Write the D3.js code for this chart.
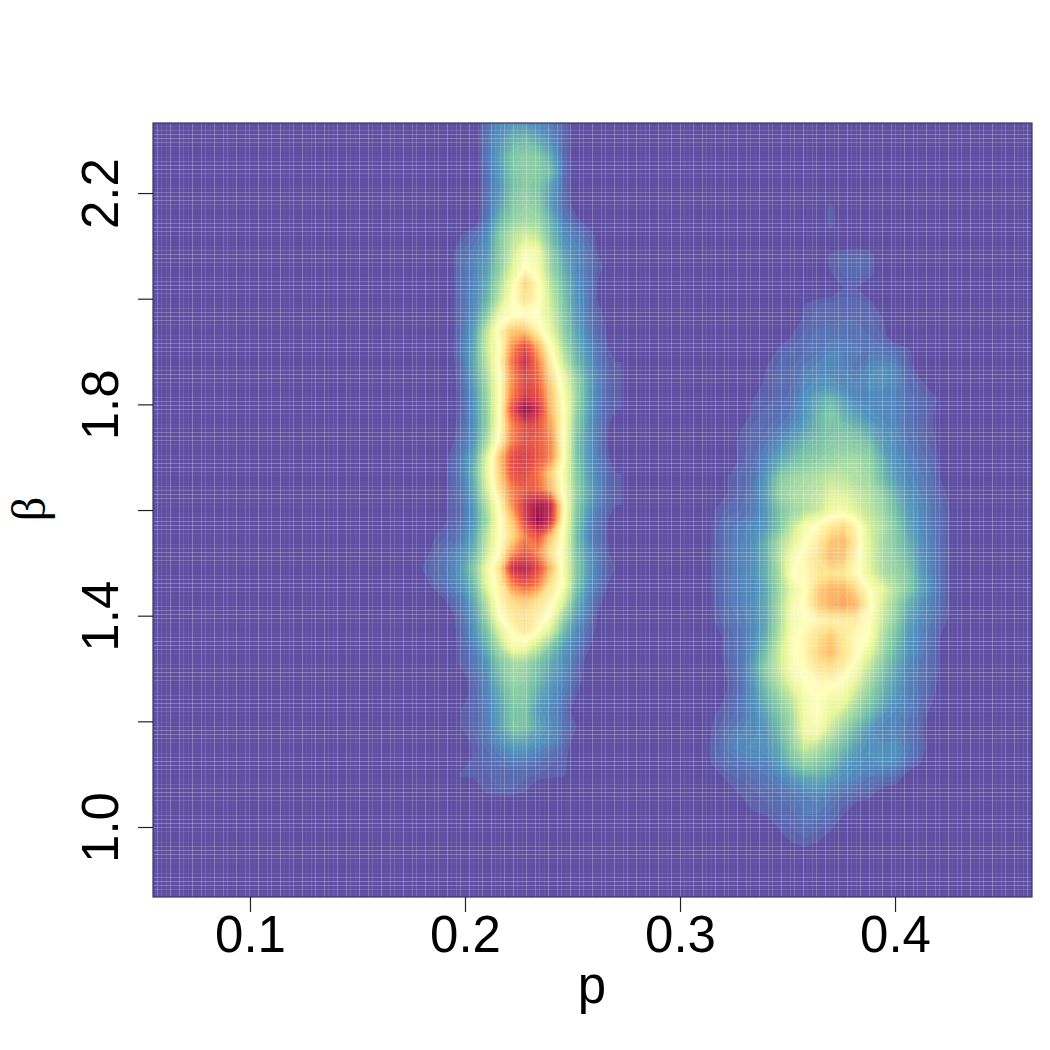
<!DOCTYPE html>
<html>
<head>
<meta charset="utf-8">
<script src="https://cdnjs.cloudflare.com/ajax/libs/d3/7.8.5/d3.min.js"></script>
<style>
  html, body { margin: 0; background: #fff; }
  svg { display: block; }
  text { font-family: "Liberation Sans", sans-serif; fill: #000; }
</style>
</head>
<body>
<script>
const WIDTH = 1050;
const HEIGHT = 1050;

//axis ticks and labels
const pTicks = [0.1, 0.2, 0.3, 0.4];
const betaTicks = [1.0, 1.2, 1.4, 1.6, 1.8, 2.0, 2.2];
const betaLabels = [1.0, 1.4, 1.8, 2.2];
const pRange = [0.0549, 0.4637];
const betaRange = [0.8675, 2.3326];

//colours of the image, low to high
const levels = [0, 0.5, 1, 2, 3, 4, 5, 6, 7, 8, 9, 10.4];
const spectral = ["#5e4fa2", "#5a6db1", "#4f8dbe", "#75bfa8", "#abdda4", "#e6f598", "#ffffbf",
                  "#fee08b", "#fdae61", "#f46d43", "#d53e4f", "#8c0a52"];

//the two modes, one row per beta value going down
const gridStep = { p: 0.006, beta: 0.03 };
const leftStart = { p: 0.18, beta: 2.33 };
const rightStart = { p: 0.31, beta: 2.17 };

const leftDensity = [
  [0,0,0,0,0,.6,1,1.3,1.3,1,.8,.5,0,0,0,0],
  [0,0,0,0,0,.7,1.2,1.8,2,1.6,1.1,.5,0,0,0,0],
  [0,0,0,0,0,.7,1.4,2.3,2.5,2.4,1.6,.6,0,0,0,0],
  [0,0,0,0,0,.6,1.3,2.2,2.5,2.4,2,.6,0,0,0,0],
  [0,0,0,0,0,.6,1.2,2.1,2.5,2.2,1.4,.6,0,0,0,0],
  [0,0,0,0,0,.6,1.4,2.3,2.7,2.4,1.3,.6,0,0,0,0],
  [0,0,0,0,0,.7,1.8,2.6,2.9,2.8,1.8,.8,.4,0,0,0],
  [0,0,0,.3,.6,1,2.4,3.3,3.8,3.4,2,1.1,.8,.5,0,0],
  [0,0,0,.6,.8,1.2,2.4,3.6,4.8,4.4,2.6,1.4,1,.7,0,0],
  [0,0,0,.7,.9,1.4,2.5,4,5.1,4.6,2.8,1.7,1,.7,.3,0],
  [0,0,0,.6,.9,1.6,3,4.6,6.4,5.2,3.2,2,1.1,.7,0,0],
  [0,0,0,.6,1,1.8,3.4,5,6,5.2,3.6,2.2,1.2,.7,0,0],
  [0,0,0,.6,1.1,2.4,4.4,5,5.1,5,3.8,2.4,1.3,.7,.3,0],
  [0,0,0,.6,1.4,3.4,5.4,6.6,6.6,5.4,4.2,2.6,1.5,.8,.4,0],
  [0,0,0,.7,1.5,3.6,5,7.6,8.8,7,5,3,1.7,1,.5,0],
  [0,0,0,.6,1.6,3.4,5.2,8,9.4,7.8,5.6,3.6,2,1.2,.6,.3],
  [0,0,0,.5,1.4,3,5,7.6,8.8,8.2,6.2,4.4,2.6,1.4,.7,.3],
  [0,0,0,.4,1.2,2.8,5,7.8,9,8.6,6.6,4.8,2.8,1.4,.7,.3],
  [0,0,0,.4,1.1,2.6,5,8.8,10.3,9.4,6.8,5,2.6,1.3,.6,.3],
  [0,0,0,.5,1.1,2.6,5,7.8,8.8,8.6,7.2,5,2.4,1.2,.6,0],
  [0,0,0,.6,1.2,3,5.4,7.8,8.6,8.4,7.6,5,2.2,1.2,.5,0],
  [0,0,.3,.8,1.6,4,6.6,8.8,9,8.6,7.6,5,2.2,1.2,.6,0],
  [0,0,.3,.8,1.8,4.2,6.4,8.6,8.8,8,6.4,4.6,2.4,1.3,.7,.3],
  [0,0,.3,.7,1.6,3.8,6,7.8,8.4,8.2,6.8,4.8,2.6,1.5,.8,.3],
  [0,0,.3,.6,1.3,3.2,5.2,7.6,9.2,10,9.4,5.2,2.4,1.3,.7,.3],
  [0,0,.3,.6,1.2,2.8,5,6.6,9,10.4,9.2,5,2.2,1,.5,0],
  [0,.3,.5,.8,1.5,3.4,5,6.2,7.8,8.6,6.6,4.8,2,.9,.5,0],
  [0,.5,.7,1.1,1.8,3.6,5.2,7.4,8.4,7.6,6,4.6,2.2,1.2,.6,0],
  [.3,.6,.8,1.3,2.4,4.4,6,9.4,9.6,8.8,6.8,4.6,2.4,1.3,.6,.3],
  [0,.5,.7,1.1,2,4.2,5.6,7.8,8.6,7.8,6,4.8,2.2,1.1,.5,0],
  [0,0,.4,.8,1.6,3.4,5.4,6.2,6.6,6,5.4,4,1.8,.9,.3,0],
  [0,0,0,.6,1.3,2.8,5,5.8,6,5.6,4.8,2.8,1.4,.7,0,0],
  [0,0,0,.5,1.1,2.2,4,5.2,5.8,5,3.8,2,1,.5,0,0],
  [0,0,0,.4,.8,1.7,3,4.6,4.4,3.4,2.2,1.3,.8,.3,0,0],
  [0,0,0,.4,.7,1.2,2.3,2.9,2.9,2.2,1.6,1.1,.6,0,0,0],
  [0,0,0,0,.6,1,2,2.8,2.6,2,1.4,1,.5,0,0,0],
  [0,0,0,0,.5,.9,1.6,2.4,2.4,1.6,1.1,.8,.3,0,0,0],
  [0,0,0,.3,.5,.8,1.4,2.2,2.2,1.3,1,.6,0,0,0,0],
  [0,0,0,.3,.5,.8,1.4,2.3,2.2,1.5,1.1,.7,.3,0,0,0],
  [0,0,0,0,.4,.7,1.1,1.5,1.5,1.2,1,.6,0,0,0,0],
  [0,0,0,0,.35,.5,.7,.9,.9,.7,.5,.4,0,0,0,0],
  [0,0,0,.35,.4,.45,.5,.5,.5,.45,.4,.35,0,0,0,0],
  [0,0,0,0,0,.4,.45,.45,.35,0,0,0,0,0,0,0],
  [0,0,0,0,0,0,0,0,0,0,0,0,0,0,0,0]
];

const rightDensity = [
  [0,0,0,0,0,0,0,0,0,0,.4,0,0,0,0,0,0,0,0,0,0],
  [0,0,0,0,0,0,0,0,0,0,.4,0,0,0,0,0,0,0,0,0,0],
  [0,0,0,0,0,0,0,0,0,0,0,0,0,0,0,0,0,0,0,0,0],
  [0,0,0,0,0,0,0,0,0,0,.4,.5,.6,.5,0,0,0,0,0,0,0],
  [0,0,0,0,0,0,0,0,0,0,.3,.5,.55,.5,0,0,0,0,0,0,0],
  [0,0,0,0,0,0,0,0,0,0,0,.3,.3,0,0,0,0,0,0,0,0],
  [0,0,0,0,0,0,0,0,.3,.45,.5,.55,.55,.45,0,0,0,0,0,0,0],
  [0,0,0,0,0,0,0,0,.4,.5,.55,.6,.6,.5,.35,0,0,0,0,0,0],
  [0,0,0,0,0,0,0,.3,.5,.7,.7,.7,.7,.6,.45,0,0,0,0,0,0],
  [0,0,0,0,0,0,.4,.5,.6,.7,.9,.9,.8,.7,.7,.6,.4,0,0,0,0],
  [0,0,0,0,0,.3,.5,.6,.8,1,1,.9,.7,1,1.1,1,.5,0,0,0,0],
  [0,0,0,0,0,.4,.5,.6,1,1.1,1.1,1,.9,1.1,1.1,1,.6,.4,0,0,0],
  [0,0,0,0,.3,.4,.5,.7,1.1,1.6,1.9,1.4,1,1,1,.9,.7,.5,.4,0,0],
  [0,0,0,0,.4,.5,.6,.8,1.2,1.8,2.4,1.8,1.4,1.1,1,.9,.7,.5,.3,0,0],
  [0,0,0,.3,.5,.6,.8,1.1,1.5,1.9,2.2,2.2,2,1.6,1.2,1,.7,.5,.3,0,0],
  [0,0,0,.4,.5,.8,1.2,1.6,2,2.2,2.5,2.6,2.5,2.3,1.4,1.1,.8,.6,.4,0,0],
  [0,0,0,.4,.6,1,1.6,2.1,2.4,2.6,2.8,3,3,2.7,1.8,1.2,.9,.7,.5,0,0],
  [0,0,.3,.5,.7,1.3,2.4,2.8,3,3.2,3.5,3.4,3.1,2.9,2,1.4,1,.8,.6,0,0],
  [0,0,.3,.5,.8,1.4,2.6,3,3.2,3.4,4,4,3.6,3.2,2.6,1.8,1.2,.9,.6,.3,0],
  [0,.3,.5,.6,.8,1.3,2.2,2.8,3.2,3.6,4.4,4.6,4,3.4,2.9,2.1,1.4,1,.7,.4,0],
  [0,.35,.7,.8,1,1.3,2.2,3.4,4.6,5.2,5.8,6.2,5.4,3.8,3.2,2.4,1.5,1,.7,.4,0],
  [0,.35,.7,.9,1.1,1.8,3,4,5,5.6,6.6,6.8,5.6,4,3,2.4,1.8,1.1,.8,.4,0],
  [0,.4,.7,.9,1.1,1.8,3.2,4.6,5.4,6,6.8,6.6,5.4,4,3,2.6,2,1.2,.8,.4,0],
  [0,.4,.7,.9,1.1,1.8,3,5,5.2,5.8,6,5.8,5.2,4.2,3.2,2.8,2.4,1.4,.8,.4,0],
  [0,.35,.7,.9,1,1.6,2.8,4.2,5,6.4,7,7,6.2,5,4.2,3.2,2.4,1.5,.9,.4,0],
  [0,.35,.7,.9,1.1,1.7,3,4.6,5.2,6.4,7,7.2,6.8,5.4,3.8,2.8,1.8,1.2,.8,.4,0],
  [0,.3,.6,.8,1,1.6,3,4.6,5,5.4,5.6,5.6,5.6,5,3.6,2.6,1.5,1,.7,.3,0],
  [0,0,.5,.7,1,1.8,3.2,4.8,5.4,6,6.6,5.8,5.2,5,3.2,2.2,1.3,.9,.6,0,0],
  [0,0,.5,.7,1.2,2.2,3.6,4.8,5.4,6.3,6.8,6,5.2,4.2,2.9,1.9,1.2,.8,.5,0,0],
  [0,0,.4,.7,1.4,2.6,3.6,4.7,5.2,5.8,6,5.6,4.6,3.4,2.4,1.6,1,.7,.5,0,0],
  [0,0,.3,.6,1.2,2.2,3.2,4.2,5,5.2,5.2,4.9,4,2.9,2,1.4,.9,.7,.4,0,0],
  [0,0,.4,.7,1.1,1.8,2.6,3.4,4.6,5,4.4,4.4,3.2,2.4,1.7,1.2,.9,.6,.3,0,0],
  [0,.3,.5,.7,1,1.5,2.2,3,4.6,5,4.2,3.4,2.6,1.9,1.2,1,.8,.5,0,0,0],
  [0,.4,.7,.9,1,1.2,1.9,2.9,4.4,4.6,3.4,2.6,1.8,1.2,.9,.9,.7,.4,0,0,0],
  [0,.5,.8,1,1.1,1.2,1.6,2.6,3.6,3.2,2.6,2,1.4,1.1,1.1,1.2,.8,.5,0,0,0],
  [0,.4,.6,.7,.8,.9,1.3,2,2.6,2.4,2,1.4,1.1,1,1.1,1,.6,.3,0,0,0],
  [0,0,.35,.45,.6,.7,.9,1.2,1.5,1.6,1.3,1.1,.9,.7,.6,.5,0,0,0,0,0],
  [0,0,0,.3,.4,.5,.6,.7,.9,1,.8,.6,.5,.4,0,0,0,0,0,0,0],
  [0,0,0,0,.3,.4,.5,.6,.8,.8,.6,.4,0,0,0,0,0,0,0,0,0],
  [0,0,0,0,0,0,.35,.45,.6,.5,.4,0,0,0,0,0,0,0,0,0,0],
  [0,0,0,0,0,0,0,.3,.4,.3,0,0,0,0,0,0,0,0,0,0,0],
  [0,0,0,0,0,0,0,0,0,0,0,0,0,0,0,0,0,0,0,0,0]
];

//plot box in pixels
const box = { left: 153, right: 1032, top: 123, bottom: 897 };

const xScale = d3.scaleLinear().domain(pRange).range([box.left, box.right]);
const yScale = d3.scaleLinear().domain(betaRange).range([box.bottom, box.top]);
const colorScale = d3.scaleLinear().domain(levels).range(spectral).clamp(true);

const svg = d3.select("body").append("svg")
  .attr("width", WIDTH)
  .attr("height", HEIGHT);

svg.append("clipPath").attr("id", "plot-clip")
  .append("rect")
  .attr("x", box.left)
  .attr("y", box.top)
  .attr("width", box.right - box.left)
  .attr("height", box.bottom - box.top);

const plot = svg.append("g").attr("clip-path", "url(#plot-clip)");

//the background level of the image
plot.append("rect")
  .attr("x", box.left)
  .attr("y", box.top)
  .attr("width", box.right - box.left)
  .attr("height", box.bottom - box.top)
  .attr("fill", colorScale(0));

//one mode: stacked filled contours of a density grid
const renderMode = (rows, start) => {
  const n = rows[0].length;
  const m = rows.length;
  const thresholds = d3.range(0.3, 10.4, 0.15);
  const contours = d3.contours().size([n, m]).thresholds(thresholds)(rows.flat());
  const path = d3.geoPath(d3.geoTransform({
    point(x, y) {
      this.stream.point(
        xScale(start.p + (x - 0.5) * gridStep.p),
        yScale(start.beta - (y - 0.5) * gridStep.beta)
      );
    }
  }));
  plot.append("g").selectAll("path")
    .data(contours)
    .join("path")
    .attr("d", path)
    .attr("fill", d => colorScale(d.value));
};

renderMode(leftDensity, leftStart);
renderMode(rightDensity, rightStart);

//the pale seams between the image cells, stronger where an edge falls between two pixels
const seamOpacity = pos => {
  const frac = pos - Math.floor(pos);
  return 0.26 * Math.pow(Math.sin(Math.PI * frac), 2);
};
const CELLS = 200;
const seams = plot.append("g").attr("stroke", "#fff").attr("shape-rendering", "crispEdges");
const seamX = d3.scaleLinear().domain([0, CELLS]).range([box.left, box.right]);
const seamY = d3.scaleLinear().domain([0, CELLS]).range([box.top, box.bottom]);

seams.selectAll(".seam-x").data(d3.range(CELLS + 1)).join("line")
  .attr("class", "seam-x")
  .attr("x1", d => Math.floor(seamX(d)) + 0.5)
  .attr("x2", d => Math.floor(seamX(d)) + 0.5)
  .attr("y1", box.top)
  .attr("y2", box.bottom)
  .attr("stroke-opacity", d => seamOpacity(seamX(d)));

seams.selectAll(".seam-y").data(d3.range(CELLS + 1)).join("line")
  .attr("class", "seam-y")
  .attr("y1", d => Math.floor(seamY(d)) + 0.5)
  .attr("y2", d => Math.floor(seamY(d)) + 0.5)
  .attr("x1", box.left)
  .attr("x2", box.right)
  .attr("stroke-opacity", d => seamOpacity(seamY(d)));

//the box
svg.append("rect")
  .attr("x", box.left)
  .attr("y", box.top)
  .attr("width", box.right - box.left)
  .attr("height", box.bottom - box.top)
  .attr("fill", "none")
  .attr("stroke", "#3a3560")
  .attr("stroke-width", 1.2);

//the axis
const xAxis = d3.axisBottom(xScale)
  .tickValues(pTicks)
  .tickSize(15)
  .tickPadding(4)
  .tickFormat(d3.format(".1f"));

const yAxis = d3.axisLeft(yScale)
  .tickValues(betaTicks)
  .tickSize(15)
  .tickFormat(d => betaLabels.includes(d) ? d3.format(".1f")(d) : "");

const xGroup = svg.append("g")
  .attr("transform", "translate(0," + box.bottom + ")")
  .call(xAxis);

const yGroup = svg.append("g")
  .attr("transform", "translate(" + box.left + ",0)")
  .call(yAxis);

xGroup.select(".domain").remove();
yGroup.select(".domain").remove();
svg.selectAll(".tick line").attr("stroke", "#222").attr("stroke-width", 1.2);
svg.selectAll(".tick text")
  .style("font-family", '"Liberation Sans", sans-serif')
  .style("font-size", "51px")
  .attr("fill", "#000");

//y labels run along the axis
yGroup.selectAll(".tick text")
  .attr("x", null)
  .attr("dy", null)
  .attr("text-anchor", "middle")
  .attr("transform", "translate(-35,0) rotate(-90)");

//the axis titles
svg.append("text")
  .attr("x", 592)
  .attr("y", 1003)
  .attr("text-anchor", "middle")
  .style("font-size", "51px")
  .text("p");

svg.append("text")
  .attr("transform", "translate(45,509) rotate(-90)")
  .attr("text-anchor", "middle")
  .style("font-family", '"Liberation Serif", serif')
  .style("font-size", "48px")
  .text("β");
</script>
</body>
</html>
